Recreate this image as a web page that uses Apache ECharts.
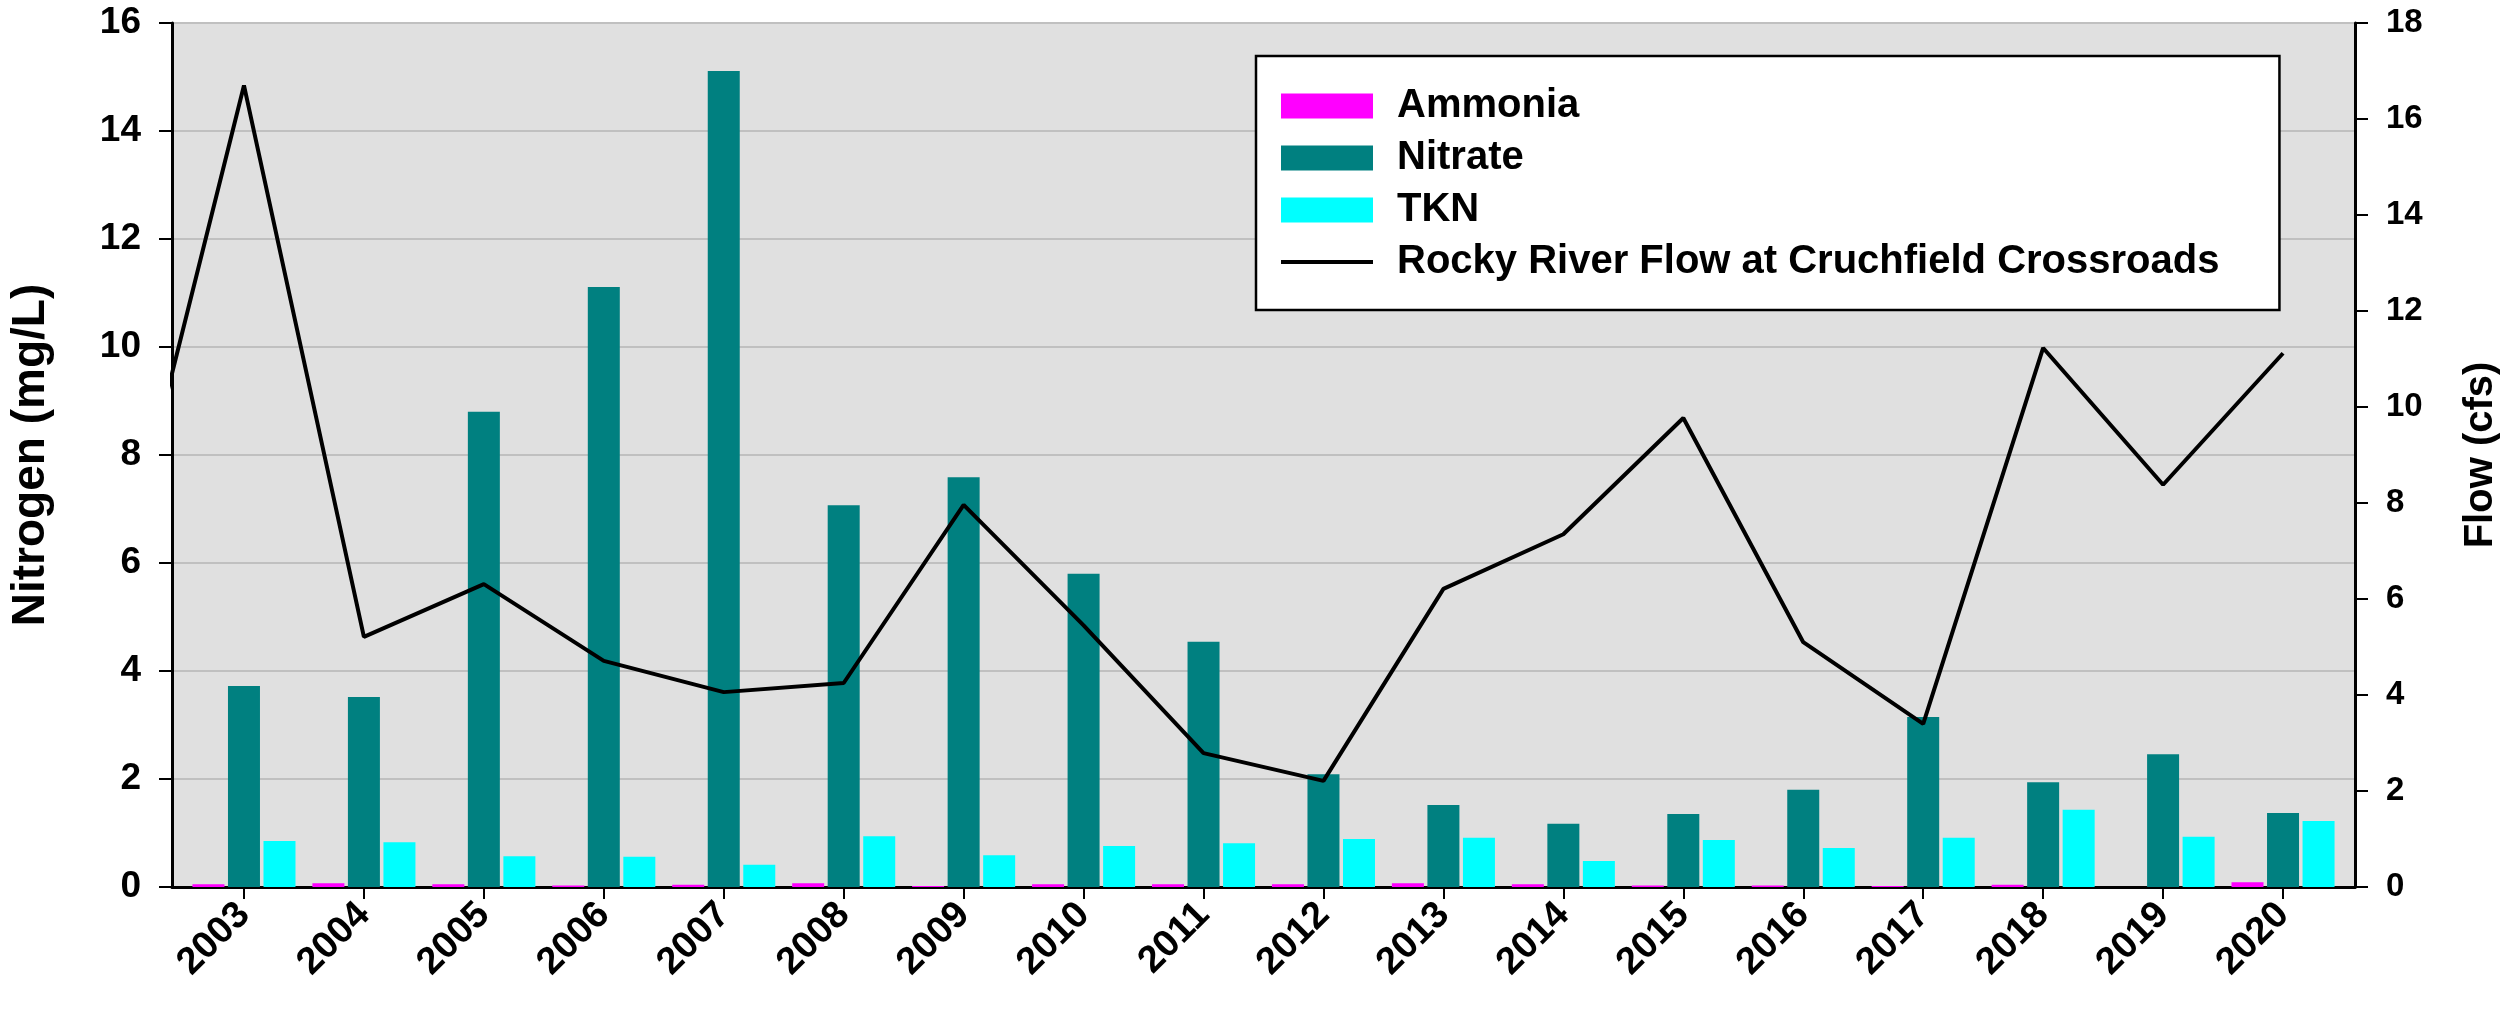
<!DOCTYPE html>
<html>
<head>
<meta charset="utf-8">
<script src="https://cdn.jsdelivr.net/npm/echarts@6/dist/echarts.min.js"></script>
<style>
html,body{margin:0;padding:0;background:#fff;}
#chart{width:2509px;height:1009px;}
</style>
</head>
<body>
<div id="chart"></div>
<script>
// ---- Data ----
const years = [2003,2004,2005,2006,2007,2008,2009,2010,2011,2012,2013,2014,2015,2016,2017,2018,2019,2020];
const ammonia = [0.05,0.07,0.05,0.03,0.04,0.07,0.02,0.05,0.05,0.05,0.07,0.05,0.03,0.03,0.02,0.04,0,0.09];
const nitrate = [3.72,3.52,8.80,11.11,15.11,7.07,7.59,5.80,4.54,2.09,1.52,1.17,1.35,1.80,3.15,1.94,2.46,1.37];
const tkn = [0.85,0.83,0.57,0.56,0.41,0.94,0.59,0.76,0.81,0.89,0.91,0.48,0.87,0.72,0.91,1.43,0.93,1.22];
// flow line enters from the left edge of the plot (previous year point lies outside the axis range)
const flowYears = [2002,2003,2004,2005,2006,2007,2008,2009,2010,2011,2012,2013,2014,2015,2016,2017,2018,2019,2020];
const flow = [6.7,16.7,5.21,6.31,4.71,4.06,4.25,7.96,5.45,2.79,2.21,6.21,7.35,9.77,5.10,3.40,11.23,8.38,11.12];
const leftTicks = [0,2,4,6,8,10,12,14,16];
const rightTicks = [0,2,4,6,8,10,12,14,16,18];

const FONT = '"Liberation Sans", Arial, sans-serif';
const pair = (xs, vs) => xs.map((x, i) => [x, vs[i]]);

const chart = echarts.init(document.getElementById('chart'), null, {renderer: 'canvas'});
chart.setOption({
  animation: false,
  textStyle: {fontFamily: FONT},
  grid: {
    left: 170, right: 146, top: 23, bottom: 122,
    show: true, backgroundColor: '#E0E0E0', borderColor: '#000', borderWidth: 2,
    containLabel: false
  },
  legend: {
    orient: 'vertical',
    left: 1256, top: 56,
    padding: [30, 60, 28, 25],
    itemWidth: 92, itemHeight: 25, itemGap: 12,
    backgroundColor: '#fff', borderColor: '#000', borderWidth: 2.5,
    textStyle: {fontSize: 40, fontWeight: 'bold', color: '#000', fontFamily: FONT, lineHeight: 38, padding: [0, 0, 0, 19]},
    data: [
      {name: 'Ammonia', icon: 'rect'},
      {name: 'Nitrate', icon: 'rect'},
      {name: 'TKN', icon: 'rect'},
      {name: 'Rocky River Flow at Cruchfield Crossroads', icon: 'path://M0,0H92V4H0Z'}
    ]
  },
  xAxis: {
    type: 'value',
    min: 2002.4, max: 2020.6,
    splitLine: {show: false},
    axisLine: {show: true, onZero: false, lineStyle: {color: '#000', width: 3}},
    axisTick: {show: true, customValues: years, length: 12, inside: false, lineStyle: {color: '#000', width: 2}},
    axisLabel: {
      customValues: years,
      rotate: 45, margin: 22,
      fontSize: 38, fontWeight: 'bold', color: '#000', fontFamily: FONT,
      formatter: v => String(Math.round(v))
    }
  },
  yAxis: [
    {
      type: 'value', min: 0, max: 16, interval: 2, position: 'left',
      name: 'Nitrogen (mg/L)', nameLocation: 'middle', nameRotate: 90, nameGap: 118,
      nameTextStyle: {fontSize: 46, fontWeight: 'bold', color: '#000', fontFamily: FONT},
      axisLine: {show: true, lineStyle: {color: '#000', width: 3}},
      axisTick: {show: true, length: 13, lineStyle: {color: '#000', width: 2}},
      axisLabel: {fontSize: 37, fontWeight: 'bold', color: '#000', margin: 31, fontFamily: FONT,
        customValues: leftTicks},
      splitLine: {show: true, lineStyle: {color: '#C0C0C0', width: 2}}
    },
    {
      type: 'value', min: 0, max: 18, interval: 2, position: 'right',
      name: 'Flow (cfs)', nameLocation: 'middle', nameRotate: 90, nameGap: 106,
      nameTextStyle: {fontSize: 40, fontWeight: 'bold', color: '#000', fontFamily: FONT},
      axisLine: {show: true, lineStyle: {color: '#000', width: 3}},
      axisTick: {show: true, length: 13, lineStyle: {color: '#000', width: 2}},
      axisLabel: {fontSize: 33, fontWeight: 'bold', color: '#000', margin: 31, fontFamily: FONT,
        customValues: rightTicks},
      splitLine: {show: false}
    }
  ],
  series: [
    {name: 'Ammonia', type: 'bar', yAxisIndex: 0, barWidth: 32, barGap: '11%',
      itemStyle: {color: '#FF00FF'}, data: pair(years, ammonia)},
    {name: 'Nitrate', type: 'bar', yAxisIndex: 0, barWidth: 32, barGap: '11%',
      itemStyle: {color: '#008080'}, data: pair(years, nitrate)},
    {name: 'TKN', type: 'bar', yAxisIndex: 0, barWidth: 32, barGap: '11%',
      itemStyle: {color: '#00FFFF'}, data: pair(years, tkn)},
    {name: 'Rocky River Flow at Cruchfield Crossroads', type: 'line', yAxisIndex: 1,
      symbol: 'none', clip: true, z: 5,
      lineStyle: {color: '#000', width: 4}, itemStyle: {color: '#000'},
      data: pair(flowYears, flow)}
  ]
});
</script>
</body>
</html>
